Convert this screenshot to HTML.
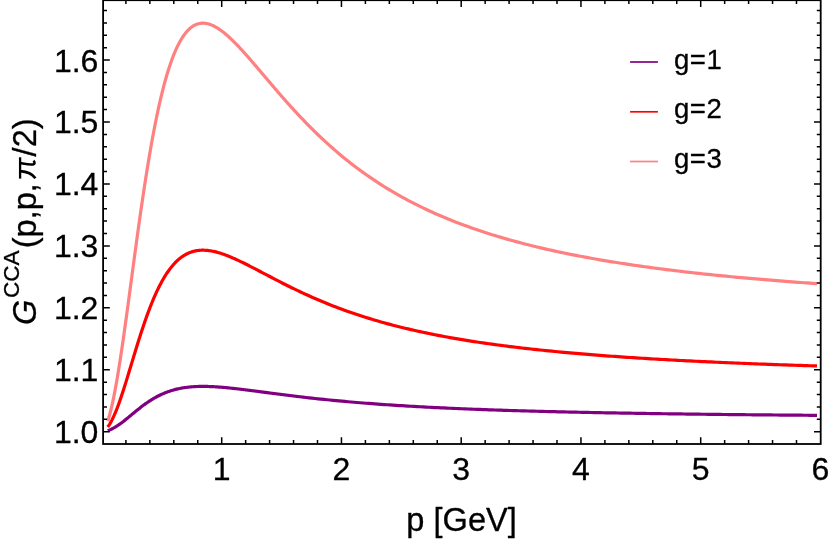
<!DOCTYPE html>
<html><head><meta charset="utf-8"><title>G CCA plot</title>
<style>html,body{margin:0;padding:0;background:#fff;}body{width:830px;height:542px;overflow:hidden;font-family:"Liberation Sans",sans-serif;}svg{display:block;will-change:transform;}</style>
</head><body>
<svg width="830" height="542" viewBox="0 0 830 542">
<rect width="830" height="542" fill="#fff"/>
<g fill="none" stroke-linejoin="round" stroke-linecap="butt" stroke-width="3.2">
<path d="M107.7,421.09 L108.7,417.97 L109.7,414.49 L110.7,410.67 L111.7,406.51 L112.7,402.03 L113.7,397.25 L114.7,392.17 L115.7,386.81 L116.7,381.19 L117.7,375.33 L118.7,369.24 L119.7,362.93 L120.7,356.44 L121.7,349.77 L122.7,342.95 L123.7,335.99 L124.7,328.90 L125.7,321.72 L126.7,314.44 L127.7,307.10 L128.7,299.70 L129.7,292.27 L130.7,284.81 L131.7,277.34 L132.7,269.88 L133.7,262.44 L134.7,255.03 L135.7,247.67 L136.7,240.35 L137.7,233.10 L138.7,225.93 L139.7,218.84 L140.7,211.83 L141.7,204.93 L142.7,198.13 L143.7,191.45 L144.7,184.88 L145.7,178.44 L146.7,172.12 L147.7,165.93 L148.7,159.88 L149.7,153.96 L150.7,148.19 L151.7,142.56 L152.7,137.07 L153.7,131.73 L154.7,126.53 L155.7,121.48 L156.7,116.58 L157.7,111.82 L158.7,107.21 L159.7,102.75 L160.7,98.43 L161.7,94.26 L162.7,90.24 L163.7,86.35 L164.7,82.60 L165.7,79.00 L166.7,75.53 L167.7,72.20 L168.7,69.00 L169.7,65.93 L170.7,62.99 L171.7,60.18 L172.7,57.50 L173.7,54.93 L174.7,52.49 L175.7,50.17 L176.7,47.96 L177.7,45.86 L178.7,43.88 L179.7,42.00 L180.7,40.23 L181.7,38.56 L182.7,36.99 L183.7,35.52 L184.7,34.15 L185.7,32.87 L186.7,31.68 L187.7,30.58 L188.7,29.57 L189.7,28.64 L190.7,27.79 L191.7,27.02 L192.7,26.33 L193.7,25.71 L194.7,25.16 L195.7,24.69 L196.7,24.28 L197.7,23.95 L198.7,23.67 L199.7,23.46 L200.7,23.31 L201.7,23.21 L202.7,23.17 L203.7,23.19 L204.7,23.26 L205.7,23.38 L206.7,23.56 L207.7,23.77 L208.7,24.04 L209.7,24.35 L210.7,24.70 L211.7,25.09 L212.7,25.53 L213.7,26.00 L214.7,26.51 L215.7,27.05 L216.7,27.63 L217.7,28.24 L218.7,28.88 L219.7,29.56 L220.7,30.26 L221.7,30.99 L222.7,31.75 L223.7,32.53 L224.7,33.34 L225.7,34.17 L226.7,35.02 L227.7,35.90 L228.7,36.79 L229.7,37.71 L230.7,38.64 L231.7,39.59 L232.7,40.56 L233.7,41.55 L234.7,42.55 L235.7,43.56 L236.7,44.59 L237.7,45.63 L238.7,46.68 L239.7,47.74 L240.7,48.82 L241.7,49.91 L242.7,51.00 L243.7,52.11 L244.7,53.22 L245.7,54.34 L246.7,55.47 L247.7,56.60 L248.7,57.74 L249.7,58.89 L250.7,60.04 L251.7,61.19 L252.7,62.35 L253.7,63.52 L254.7,64.69 L255.7,65.86 L256.7,67.03 L257.7,68.21 L258.7,69.38 L259.7,70.56 L260.7,71.74 L261.7,72.92 L262.7,74.11 L263.7,75.29 L264.7,76.47 L265.7,77.65 L266.7,78.83 L267.7,80.01 L268.7,81.19 L269.7,82.37 L270.7,83.55 L271.7,84.72 L272.7,85.89 L273.7,87.06 L274.7,88.23 L275.7,89.40 L276.7,90.56 L277.7,91.72 L278.7,92.88 L279.7,94.03 L280.7,95.18 L281.7,96.33 L282.7,97.47 L283.7,98.61 L284.7,99.74 L285.7,100.87 L286.7,102.00 L287.7,103.12 L288.7,104.24 L289.7,105.36 L290.7,106.47 L291.7,107.57 L292.7,108.67 L293.7,109.77 L294.7,110.86 L295.7,111.94 L296.7,113.02 L297.7,114.10 L298.7,115.17 L299.7,116.23 L300.0,116.55 L303.0,119.71 L306.0,122.82 L309.0,125.88 L312.0,128.89 L315.0,131.85 L318.0,134.76 L321.0,137.61 L324.0,140.42 L327.0,143.18 L330.0,145.88 L333.0,148.53 L336.0,151.14 L339.0,153.69 L342.0,156.20 L345.0,158.65 L348.0,161.06 L351.0,163.42 L354.0,165.74 L357.0,168.01 L360.0,170.23 L363.0,172.41 L366.0,174.54 L369.0,176.64 L372.0,178.69 L375.0,180.70 L378.0,182.66 L381.0,184.59 L384.0,186.48 L387.0,188.34 L390.0,190.15 L393.0,191.93 L396.0,193.67 L399.0,195.38 L402.0,197.05 L405.0,198.69 L408.0,200.30 L411.0,201.88 L414.0,203.42 L417.0,204.93 L420.0,206.42 L423.0,207.87 L426.0,209.30 L429.0,210.70 L432.0,212.07 L435.0,213.42 L438.0,214.73 L441.0,216.03 L444.0,217.30 L447.0,218.54 L450.0,219.76 L453.0,220.96 L456.0,222.14 L459.0,223.29 L462.0,224.42 L465.0,225.53 L468.0,226.62 L471.0,227.69 L474.0,228.74 L477.0,229.77 L480.0,230.79 L483.0,231.78 L486.0,232.76 L489.0,233.71 L492.0,234.66 L495.0,235.58 L498.0,236.49 L501.0,237.38 L504.0,238.26 L507.0,239.12 L510.0,239.97 L513.0,240.80 L516.0,241.62 L519.0,242.42 L522.0,243.21 L525.0,243.99 L528.0,244.75 L531.0,245.50 L534.0,246.24 L537.0,246.97 L540.0,247.68 L543.0,248.38 L546.0,249.07 L549.0,249.75 L552.0,250.42 L555.0,251.08 L558.0,251.73 L561.0,252.36 L564.0,252.99 L567.0,253.61 L570.0,254.22 L573.0,254.81 L576.0,255.40 L579.0,255.98 L582.0,256.55 L585.0,257.11 L588.0,257.67 L591.0,258.21 L594.0,258.75 L597.0,259.28 L600.0,259.80 L603.0,260.31 L606.0,260.82 L609.0,261.31 L612.0,261.81 L615.0,262.29 L618.0,262.77 L621.0,263.23 L624.0,263.70 L627.0,264.15 L630.0,264.60 L633.0,265.05 L636.0,265.48 L639.0,265.91 L642.0,266.34 L645.0,266.76 L648.0,267.17 L651.0,267.58 L654.0,267.98 L657.0,268.38 L660.0,268.77 L663.0,269.15 L666.0,269.54 L669.0,269.91 L672.0,270.28 L675.0,270.65 L678.0,271.01 L681.0,271.36 L684.0,271.72 L687.0,272.06 L690.0,272.40 L693.0,272.74 L696.0,273.08 L699.0,273.41 L702.0,273.73 L705.0,274.05 L708.0,274.37 L711.0,274.68 L714.0,274.99 L717.0,275.30 L720.0,275.60 L723.0,275.90 L726.0,276.19 L729.0,276.48 L732.0,276.77 L735.0,277.05 L738.0,277.33 L741.0,277.61 L744.0,277.88 L747.0,278.15 L750.0,278.42 L753.0,278.68 L756.0,278.94 L759.0,279.20 L762.0,279.45 L765.0,279.71 L768.0,279.96 L771.0,280.20 L774.0,280.44 L777.0,280.68 L780.0,280.92 L783.0,281.16 L786.0,281.39 L789.0,281.62 L792.0,281.85 L795.0,282.07 L798.0,282.29 L801.0,282.51 L804.0,282.73 L807.0,282.95 L810.0,283.16 L813.0,283.37 L816.0,283.58 L817.0,283.65" stroke="#ff8080"/>
<path d="M107.7,427.04 L108.7,425.65 L109.7,424.11 L110.7,422.41 L111.7,420.56 L112.7,418.57 L113.7,416.44 L114.7,414.19 L115.7,411.80 L116.7,409.31 L117.7,406.70 L118.7,403.99 L119.7,401.19 L120.7,398.31 L121.7,395.34 L122.7,392.31 L123.7,389.22 L124.7,386.07 L125.7,382.87 L126.7,379.64 L127.7,376.38 L128.7,373.09 L129.7,369.79 L130.7,366.47 L131.7,363.15 L132.7,359.84 L133.7,356.53 L134.7,353.24 L135.7,349.96 L136.7,346.71 L137.7,343.49 L138.7,340.30 L139.7,337.15 L140.7,334.04 L141.7,330.97 L142.7,327.95 L143.7,324.98 L144.7,322.06 L145.7,319.19 L146.7,316.39 L147.7,313.64 L148.7,310.95 L149.7,308.32 L150.7,305.75 L151.7,303.25 L152.7,300.81 L153.7,298.43 L154.7,296.12 L155.7,293.88 L156.7,291.70 L157.7,289.59 L158.7,287.54 L159.7,285.56 L160.7,283.64 L161.7,281.78 L162.7,279.99 L163.7,278.27 L164.7,276.60 L165.7,275.00 L166.7,273.46 L167.7,271.98 L168.7,270.56 L169.7,269.19 L170.7,267.89 L171.7,266.64 L172.7,265.44 L173.7,264.30 L174.7,263.22 L175.7,262.19 L176.7,261.20 L177.7,260.27 L178.7,259.39 L179.7,258.56 L180.7,257.77 L181.7,257.03 L182.7,256.33 L183.7,255.68 L184.7,255.07 L185.7,254.50 L186.7,253.97 L187.7,253.48 L188.7,253.03 L189.7,252.62 L190.7,252.24 L191.7,251.90 L192.7,251.59 L193.7,251.31 L194.7,251.07 L195.7,250.86 L196.7,250.68 L197.7,250.53 L198.7,250.41 L199.7,250.31 L200.7,250.25 L201.7,250.21 L202.7,250.19 L203.7,250.20 L204.7,250.23 L205.7,250.28 L206.7,250.36 L207.7,250.46 L208.7,250.57 L209.7,250.71 L210.7,250.87 L211.7,251.04 L212.7,251.23 L213.7,251.44 L214.7,251.67 L215.7,251.91 L216.7,252.17 L217.7,252.44 L218.7,252.73 L219.7,253.03 L220.7,253.34 L221.7,253.66 L222.7,254.00 L223.7,254.35 L224.7,254.71 L225.7,255.08 L226.7,255.45 L227.7,255.84 L228.7,256.24 L229.7,256.65 L230.7,257.06 L231.7,257.49 L232.7,257.92 L233.7,258.35 L234.7,258.80 L235.7,259.25 L236.7,259.71 L237.7,260.17 L238.7,260.64 L239.7,261.11 L240.7,261.59 L241.7,262.07 L242.7,262.56 L243.7,263.05 L244.7,263.54 L245.7,264.04 L246.7,264.54 L247.7,265.04 L248.7,265.55 L249.7,266.06 L250.7,266.57 L251.7,267.09 L252.7,267.60 L253.7,268.12 L254.7,268.64 L255.7,269.16 L256.7,269.68 L257.7,270.20 L258.7,270.73 L259.7,271.25 L260.7,271.77 L261.7,272.30 L262.7,272.82 L263.7,273.35 L264.7,273.88 L265.7,274.40 L266.7,274.93 L267.7,275.45 L268.7,275.97 L269.7,276.50 L270.7,277.02 L271.7,277.54 L272.7,278.06 L273.7,278.58 L274.7,279.10 L275.7,279.62 L276.7,280.14 L277.7,280.65 L278.7,281.17 L279.7,281.68 L280.7,282.19 L281.7,282.70 L282.7,283.21 L283.7,283.71 L284.7,284.22 L285.7,284.72 L286.7,285.22 L287.7,285.72 L288.7,286.22 L289.7,286.71 L290.7,287.21 L291.7,287.70 L292.7,288.19 L293.7,288.67 L294.7,289.16 L295.7,289.64 L296.7,290.12 L297.7,290.60 L298.7,291.07 L299.7,291.55 L300.0,291.69 L303.0,293.09 L306.0,294.47 L309.0,295.83 L312.0,297.17 L315.0,298.49 L318.0,299.78 L321.0,301.05 L324.0,302.30 L327.0,303.52 L330.0,304.72 L333.0,305.90 L336.0,307.06 L339.0,308.20 L342.0,309.31 L345.0,310.40 L348.0,311.47 L351.0,312.52 L354.0,313.55 L357.0,314.56 L360.0,315.55 L363.0,316.52 L366.0,317.46 L369.0,318.39 L372.0,319.31 L375.0,320.20 L378.0,321.07 L381.0,321.93 L384.0,322.77 L387.0,323.59 L390.0,324.40 L393.0,325.19 L396.0,325.97 L399.0,326.72 L402.0,327.47 L405.0,328.20 L408.0,328.91 L411.0,329.61 L414.0,330.30 L417.0,330.97 L420.0,331.63 L423.0,332.28 L426.0,332.91 L429.0,333.53 L432.0,334.14 L435.0,334.74 L438.0,335.33 L441.0,335.90 L444.0,336.47 L447.0,337.02 L450.0,337.56 L453.0,338.09 L456.0,338.62 L459.0,339.13 L462.0,339.63 L465.0,340.13 L468.0,340.61 L471.0,341.09 L474.0,341.55 L477.0,342.01 L480.0,342.46 L483.0,342.90 L486.0,343.34 L489.0,343.76 L492.0,344.18 L495.0,344.59 L498.0,345.00 L501.0,345.39 L504.0,345.78 L507.0,346.16 L510.0,346.54 L513.0,346.91 L516.0,347.27 L519.0,347.63 L522.0,347.98 L525.0,348.33 L528.0,348.67 L531.0,349.00 L534.0,349.33 L537.0,349.65 L540.0,349.97 L543.0,350.28 L546.0,350.59 L549.0,350.89 L552.0,351.19 L555.0,351.48 L558.0,351.77 L561.0,352.05 L564.0,352.33 L567.0,352.60 L570.0,352.87 L573.0,353.14 L576.0,353.40 L579.0,353.66 L582.0,353.91 L585.0,354.16 L588.0,354.41 L591.0,354.65 L594.0,354.89 L597.0,355.12 L600.0,355.35 L603.0,355.58 L606.0,355.81 L609.0,356.03 L612.0,356.25 L615.0,356.46 L618.0,356.67 L621.0,356.88 L624.0,357.09 L627.0,357.29 L630.0,357.49 L633.0,357.69 L636.0,357.88 L639.0,358.07 L642.0,358.26 L645.0,358.45 L648.0,358.63 L651.0,358.81 L654.0,358.99 L657.0,359.17 L660.0,359.34 L663.0,359.51 L666.0,359.68 L669.0,359.85 L672.0,360.01 L675.0,360.18 L678.0,360.34 L681.0,360.50 L684.0,360.65 L687.0,360.81 L690.0,360.96 L693.0,361.11 L696.0,361.26 L699.0,361.40 L702.0,361.55 L705.0,361.69 L708.0,361.83 L711.0,361.97 L714.0,362.11 L717.0,362.24 L720.0,362.38 L723.0,362.51 L726.0,362.64 L729.0,362.77 L732.0,362.90 L735.0,363.02 L738.0,363.15 L741.0,363.27 L744.0,363.39 L747.0,363.51 L750.0,363.63 L753.0,363.75 L756.0,363.86 L759.0,363.98 L762.0,364.09 L765.0,364.20 L768.0,364.31 L771.0,364.42 L774.0,364.53 L777.0,364.64 L780.0,364.74 L783.0,364.85 L786.0,364.95 L789.0,365.05 L792.0,365.15 L795.0,365.25 L798.0,365.35 L801.0,365.45 L804.0,365.55 L807.0,365.64 L810.0,365.74 L813.0,365.83 L816.0,365.92 L817.0,365.95" stroke="#ff0000"/>
<path d="M107.7,430.61 L108.7,430.26 L109.7,429.88 L110.7,429.45 L111.7,428.99 L112.7,428.49 L113.7,427.96 L114.7,427.40 L115.7,426.80 L116.7,426.18 L117.7,425.53 L118.7,424.85 L119.7,424.15 L120.7,423.43 L121.7,422.69 L122.7,421.93 L123.7,421.15 L124.7,420.37 L125.7,419.57 L126.7,418.76 L127.7,417.94 L128.7,417.12 L129.7,416.30 L130.7,415.47 L131.7,414.64 L132.7,413.81 L133.7,412.98 L134.7,412.16 L135.7,411.34 L136.7,410.53 L137.7,409.72 L138.7,408.93 L139.7,408.14 L140.7,407.36 L141.7,406.59 L142.7,405.84 L143.7,405.09 L144.7,404.36 L145.7,403.65 L146.7,402.95 L147.7,402.26 L148.7,401.59 L149.7,400.93 L150.7,400.29 L151.7,399.66 L152.7,399.05 L153.7,398.46 L154.7,397.88 L155.7,397.32 L156.7,396.78 L157.7,396.25 L158.7,395.73 L159.7,395.24 L160.7,394.76 L161.7,394.30 L162.7,393.85 L163.7,393.42 L164.7,393.00 L165.7,392.60 L166.7,392.21 L167.7,391.84 L168.7,391.49 L169.7,391.15 L170.7,390.82 L171.7,390.51 L172.7,390.21 L173.7,389.93 L174.7,389.65 L175.7,389.40 L176.7,389.15 L177.7,388.92 L178.7,388.70 L179.7,388.49 L180.7,388.29 L181.7,388.11 L182.7,387.93 L183.7,387.77 L184.7,387.62 L185.7,387.47 L186.7,387.34 L187.7,387.22 L188.7,387.11 L189.7,387.00 L190.7,386.91 L191.7,386.82 L192.7,386.75 L193.7,386.68 L194.7,386.62 L195.7,386.57 L196.7,386.52 L197.7,386.48 L198.7,386.45 L199.7,386.43 L200.7,386.41 L201.7,386.40 L202.7,386.40 L203.7,386.40 L204.7,386.41 L205.7,386.42 L206.7,386.44 L207.7,386.46 L208.7,386.49 L209.7,386.53 L210.7,386.57 L211.7,386.61 L212.7,386.66 L213.7,386.71 L214.7,386.77 L215.7,386.83 L216.7,386.89 L217.7,386.96 L218.7,387.03 L219.7,387.11 L220.7,387.18 L221.7,387.27 L222.7,387.35 L223.7,387.44 L224.7,387.53 L225.7,387.62 L226.7,387.71 L227.7,387.81 L228.7,387.91 L229.7,388.01 L230.7,388.12 L231.7,388.22 L232.7,388.33 L233.7,388.44 L234.7,388.55 L235.7,388.66 L236.7,388.78 L237.7,388.89 L238.7,389.01 L239.7,389.13 L240.7,389.25 L241.7,389.37 L242.7,389.49 L243.7,389.61 L244.7,389.74 L245.7,389.86 L246.7,389.99 L247.7,390.11 L248.7,390.24 L249.7,390.37 L250.7,390.49 L251.7,390.62 L252.7,390.75 L253.7,390.88 L254.7,391.01 L255.7,391.14 L256.7,391.27 L257.7,391.40 L258.7,391.53 L259.7,391.66 L260.7,391.79 L261.7,391.92 L262.7,392.06 L263.7,392.19 L264.7,392.32 L265.7,392.45 L266.7,392.58 L267.7,392.71 L268.7,392.84 L269.7,392.97 L270.7,393.11 L271.7,393.24 L272.7,393.37 L273.7,393.50 L274.7,393.63 L275.7,393.76 L276.7,393.88 L277.7,394.01 L278.7,394.14 L279.7,394.27 L280.7,394.40 L281.7,394.53 L282.7,394.65 L283.7,394.78 L284.7,394.90 L285.7,395.03 L286.7,395.16 L287.7,395.28 L288.7,395.40 L289.7,395.53 L290.7,395.65 L291.7,395.77 L292.7,395.90 L293.7,396.02 L294.7,396.14 L295.7,396.26 L296.7,396.38 L297.7,396.50 L298.7,396.62 L299.7,396.74 L300.0,396.77 L303.0,397.12 L306.0,397.47 L309.0,397.81 L312.0,398.14 L315.0,398.47 L318.0,398.80 L321.0,399.11 L324.0,399.42 L327.0,399.73 L330.0,400.03 L333.0,400.33 L336.0,400.62 L339.0,400.90 L342.0,401.18 L345.0,401.45 L348.0,401.72 L351.0,401.98 L354.0,402.24 L357.0,402.49 L360.0,402.74 L363.0,402.98 L366.0,403.22 L369.0,403.45 L372.0,403.68 L375.0,403.90 L378.0,404.12 L381.0,404.33 L384.0,404.54 L387.0,404.75 L390.0,404.95 L393.0,405.15 L396.0,405.34 L399.0,405.53 L402.0,405.72 L405.0,405.90 L408.0,406.08 L411.0,406.25 L414.0,406.42 L417.0,406.59 L420.0,406.76 L423.0,406.92 L426.0,407.08 L429.0,407.23 L432.0,407.39 L435.0,407.54 L438.0,407.68 L441.0,407.83 L444.0,407.97 L447.0,408.10 L450.0,408.24 L453.0,408.37 L456.0,408.50 L459.0,408.63 L462.0,408.76 L465.0,408.88 L468.0,409.00 L471.0,409.12 L474.0,409.24 L477.0,409.35 L480.0,409.47 L483.0,409.58 L486.0,409.68 L489.0,409.79 L492.0,409.90 L495.0,410.00 L498.0,410.10 L501.0,410.20 L504.0,410.30 L507.0,410.39 L510.0,410.49 L513.0,410.58 L516.0,410.67 L519.0,410.76 L522.0,410.85 L525.0,410.93 L528.0,411.02 L531.0,411.10 L534.0,411.18 L537.0,411.26 L540.0,411.34 L543.0,411.42 L546.0,411.50 L549.0,411.57 L552.0,411.65 L555.0,411.72 L558.0,411.79 L561.0,411.86 L564.0,411.93 L567.0,412.00 L570.0,412.07 L573.0,412.13 L576.0,412.20 L579.0,412.26 L582.0,412.33 L585.0,412.39 L588.0,412.45 L591.0,412.51 L594.0,412.57 L597.0,412.63 L600.0,412.69 L603.0,412.75 L606.0,412.80 L609.0,412.86 L612.0,412.91 L615.0,412.97 L618.0,413.02 L621.0,413.07 L624.0,413.12 L627.0,413.17 L630.0,413.22 L633.0,413.27 L636.0,413.32 L639.0,413.37 L642.0,413.42 L645.0,413.46 L648.0,413.51 L651.0,413.55 L654.0,413.60 L657.0,413.64 L660.0,413.69 L663.0,413.73 L666.0,413.77 L669.0,413.81 L672.0,413.85 L675.0,413.89 L678.0,413.93 L681.0,413.97 L684.0,414.01 L687.0,414.05 L690.0,414.09 L693.0,414.13 L696.0,414.16 L699.0,414.20 L702.0,414.24 L705.0,414.27 L708.0,414.31 L711.0,414.34 L714.0,414.38 L717.0,414.41 L720.0,414.44 L723.0,414.48 L726.0,414.51 L729.0,414.54 L732.0,414.57 L735.0,414.61 L738.0,414.64 L741.0,414.67 L744.0,414.70 L747.0,414.73 L750.0,414.76 L753.0,414.79 L756.0,414.82 L759.0,414.84 L762.0,414.87 L765.0,414.90 L768.0,414.93 L771.0,414.96 L774.0,414.98 L777.0,415.01 L780.0,415.04 L783.0,415.06 L786.0,415.09 L789.0,415.11 L792.0,415.14 L795.0,415.16 L798.0,415.19 L801.0,415.21 L804.0,415.24 L807.0,415.26 L810.0,415.28 L813.0,415.31 L816.0,415.33 L817.0,415.34" stroke="#800080"/>
</g>
<path d="M125.90,444.0v-3.9 M125.90,0.2v3.9 M149.85,444.0v-3.9 M149.85,0.2v3.9 M173.80,444.0v-3.9 M173.80,0.2v3.9 M197.75,444.0v-3.9 M197.75,0.2v3.9 M221.70,444.0v-6.7 M221.70,0.2v6.7 M245.65,444.0v-3.9 M245.65,0.2v3.9 M269.60,444.0v-3.9 M269.60,0.2v3.9 M293.55,444.0v-3.9 M293.55,0.2v3.9 M317.50,444.0v-3.9 M317.50,0.2v3.9 M341.45,444.0v-6.7 M341.45,0.2v6.7 M365.40,444.0v-3.9 M365.40,0.2v3.9 M389.35,444.0v-3.9 M389.35,0.2v3.9 M413.30,444.0v-3.9 M413.30,0.2v3.9 M437.25,444.0v-3.9 M437.25,0.2v3.9 M461.20,444.0v-6.7 M461.20,0.2v6.7 M485.15,444.0v-3.9 M485.15,0.2v3.9 M509.10,444.0v-3.9 M509.10,0.2v3.9 M533.05,444.0v-3.9 M533.05,0.2v3.9 M557.00,444.0v-3.9 M557.00,0.2v3.9 M580.95,444.0v-6.7 M580.95,0.2v6.7 M604.90,444.0v-3.9 M604.90,0.2v3.9 M628.85,444.0v-3.9 M628.85,0.2v3.9 M652.80,444.0v-3.9 M652.80,0.2v3.9 M676.75,444.0v-3.9 M676.75,0.2v3.9 M700.70,444.0v-6.7 M700.70,0.2v6.7 M724.65,444.0v-3.9 M724.65,0.2v3.9 M748.60,444.0v-3.9 M748.60,0.2v3.9 M772.55,444.0v-3.9 M772.55,0.2v3.9 M796.50,444.0v-3.9 M796.50,0.2v3.9 M103.1,431.70h6.7 M820.7,431.70h-6.7 M103.1,419.31h3.9 M820.7,419.31h-3.9 M103.1,406.92h3.9 M820.7,406.92h-3.9 M103.1,394.54h3.9 M820.7,394.54h-3.9 M103.1,382.15h3.9 M820.7,382.15h-3.9 M103.1,369.76h6.7 M820.7,369.76h-6.7 M103.1,357.37h3.9 M820.7,357.37h-3.9 M103.1,344.98h3.9 M820.7,344.98h-3.9 M103.1,332.60h3.9 M820.7,332.60h-3.9 M103.1,320.21h3.9 M820.7,320.21h-3.9 M103.1,307.82h6.7 M820.7,307.82h-6.7 M103.1,295.43h3.9 M820.7,295.43h-3.9 M103.1,283.04h3.9 M820.7,283.04h-3.9 M103.1,270.66h3.9 M820.7,270.66h-3.9 M103.1,258.27h3.9 M820.7,258.27h-3.9 M103.1,245.88h6.7 M820.7,245.88h-6.7 M103.1,233.49h3.9 M820.7,233.49h-3.9 M103.1,221.10h3.9 M820.7,221.10h-3.9 M103.1,208.72h3.9 M820.7,208.72h-3.9 M103.1,196.33h3.9 M820.7,196.33h-3.9 M103.1,183.94h6.7 M820.7,183.94h-6.7 M103.1,171.55h3.9 M820.7,171.55h-3.9 M103.1,159.16h3.9 M820.7,159.16h-3.9 M103.1,146.78h3.9 M820.7,146.78h-3.9 M103.1,134.39h3.9 M820.7,134.39h-3.9 M103.1,122.00h6.7 M820.7,122.00h-6.7 M103.1,109.61h3.9 M820.7,109.61h-3.9 M103.1,97.22h3.9 M820.7,97.22h-3.9 M103.1,84.84h3.9 M820.7,84.84h-3.9 M103.1,72.45h3.9 M820.7,72.45h-3.9 M103.1,60.06h6.7 M820.7,60.06h-6.7 M103.1,47.67h3.9 M820.7,47.67h-3.9 M103.1,35.28h3.9 M820.7,35.28h-3.9 M103.1,22.90h3.9 M820.7,22.90h-3.9 M103.1,10.51h3.9 M820.7,10.51h-3.9" stroke="#000" stroke-width="1.5" fill="none"/>
<rect x="103.1" y="0.2" width="717.6" height="443.8" fill="none" stroke="#000" stroke-width="1.8"/>
<g font-family="Liberation Sans, sans-serif" fill="#000" stroke="#000" stroke-width="0.3" stroke-linejoin="round">
<g font-size="32.0" text-anchor="end">
<text x="98.4" y="443.1">1.0</text>
<text x="98.4" y="381.2">1.1</text>
<text x="98.4" y="319.2">1.2</text>
<text x="98.4" y="257.3">1.3</text>
<text x="98.4" y="195.3">1.4</text>
<text x="98.4" y="133.4">1.5</text>
<text x="98.4" y="71.5">1.6</text>
</g>
<g font-size="32.0" text-anchor="middle">
<text x="221.7" y="480.1">1</text>
<text x="341.4" y="480.1">2</text>
<text x="461.2" y="480.1">3</text>
<text x="581.0" y="480.1">4</text>
<text x="700.7" y="480.1">5</text>
<text x="820.5" y="480.1">6</text>
</g>
<text x="461.6" y="530.6" font-size="32.6" text-anchor="middle">p [GeV]</text>
<g transform="translate(36.4,323.6) rotate(-90)">
<text x="-1.5" y="0" font-size="32.6" font-style="italic">G</text>
<text x="25.5" y="-17.0" font-size="22.6">CCA</text>
<text x="75.3" y="0" font-size="32.6">(p,p,</text>
<g fill="none" stroke="#000" stroke-linecap="butt"><path d="M145.0,-16.3H166.3" stroke-width="2.3"/><path d="M152.4,-16.3C152.0,-9.5 150.0,-4.2 145.3,-1.0" stroke-width="2.7"/><path d="M160.6,-16.3C159.6,-10.5 158.4,-5.2 159.3,-3.0C160.0,-1.4 161.6,-1.6 162.9,-3.0" stroke-width="2.6"/></g>
<text x="167.2" y="0" font-size="32.6">/2)</text>
</g>
<g font-size="27.6">
<path d="M630.1,62.0H657.9" stroke="#800080" stroke-width="1.7"/>
<text x="674.0" y="68.5" letter-spacing="0.5">g=1</text>
<path d="M630.1,111.8H657.9" stroke="#ff0000" stroke-width="1.7"/>
<text x="674.0" y="118.3" letter-spacing="0.5">g=2</text>
<path d="M630.1,161.5H657.9" stroke="#ff8080" stroke-width="1.7"/>
<text x="674.0" y="168.0" letter-spacing="0.5">g=3</text>
</g></g></svg>
</body></html>
